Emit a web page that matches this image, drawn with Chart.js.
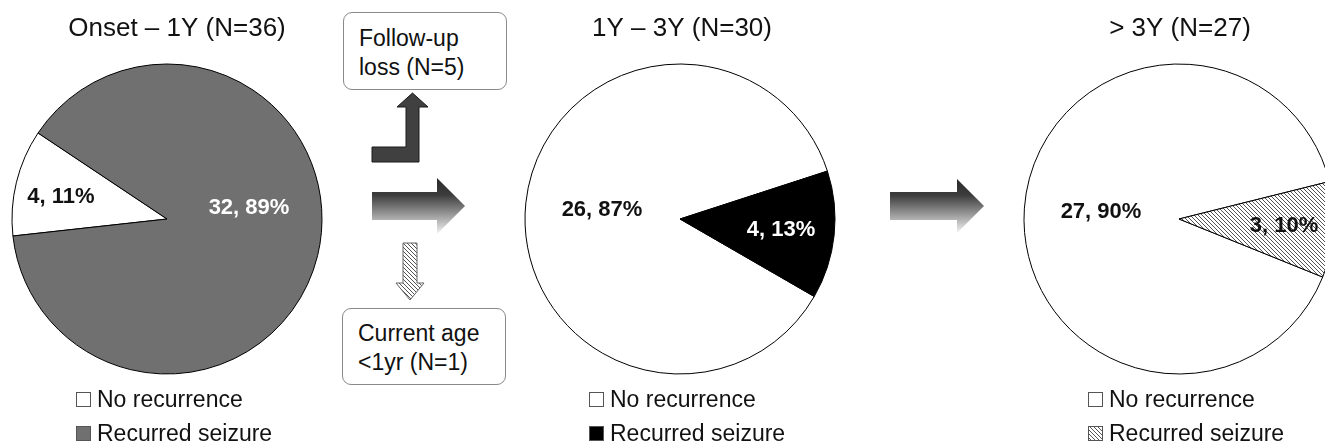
<!DOCTYPE html>
<html>
<head>
<meta charset="utf-8">
<script src="https://cdn.jsdelivr.net/npm/chart.js@4/dist/chart.umd.min.js"></script>
<style>
  html, body { margin:0; padding:0; background:#fff; overflow:hidden; width:1325px; height:445px; }
  #stage { position:relative; width:1325px; height:445px; overflow:hidden; font-family: Arial, "Liberation Sans", sans-serif; }
  canvas.pie { position:absolute; top:0; }
  .box { position:absolute; box-sizing:border-box; border:1px solid #8a8a8a; border-radius:9px; background:#fff;
         font-size:23px; line-height:29px; color:#111; padding-left:15px; }
  svg { position:absolute; left:0; top:0; }
</style>
</head>
<body>
<div id="stage">
  <svg width="1325" height="445">
    <defs>
      <linearGradient id="grad" x1="0" y1="0" x2="0" y2="1">
        <stop offset="0" stop-color="#2a2a2a"/>
        <stop offset="0.3" stop-color="#3c3c3c"/>
        <stop offset="1" stop-color="#f4f4f4"/>
      </linearGradient>
      <pattern id="hatch" width="4" height="4" patternUnits="userSpaceOnUse">
        <rect width="4" height="4" fill="#fff"/>
        <path d="M-1,-1 L5,5 M-1,3 L1,5 M3,-1 L5,1" stroke="#555" stroke-width="1"/>
      </pattern>
    </defs>
    <polygon points="372,147 406,147 406,107 397,107 412.5,93 428,107 419,107 419,162 372,162" fill="#404040" stroke="#1a1a1a" stroke-width="1"/>
    <polygon points="372,192 437,192 437,178 465,206 437,234 437,220 372,220" fill="url(#grad)"/>
    <polygon points="403,243 417,243 417,283 424,283 410,300 396,283 403,283" fill="url(#hatch)" stroke="#666" stroke-width="1"/>
    <polygon points="890,192 957,192 957,179 984,206 957,233 957,220 890,220" fill="url(#grad)"/>
  </svg>
  <div class="box" style="left:343px;top:12px;width:164px;height:78px;padding-top:11px;">Follow-up<br>loss (N=5)</div>
  <div class="box" style="left:342px;top:308px;width:164px;height:77px;padding-top:10px;">Current age<br>&lt;1yr (N=1)</div>
  <canvas id="c1" class="pie" width="360" height="445"></canvas>
  <canvas id="c2" class="pie" width="360" height="445"></canvas>
  <canvas id="c3" class="pie" width="360" height="445"></canvas>
</div>
<script>
// ---- data ----
const categories = ['No recurrence', 'Recurred seizure'];
const periodTitles = ['Onset \u2013 1Y (N=36)', '1Y \u2013 3Y (N=30)', '> 3Y (N=27)'];
const onsetTo1Y = [4, 32];
const oneTo3Y = [26, 4];
const over3Y = [27, 3];

// ---- styles ----
const FONT = 'Arial, "Liberation Sans", sans-serif';
function makeHatch() {
  const t = document.createElement('canvas');
  t.width = 4; t.height = 4;
  const c = t.getContext('2d');
  c.fillStyle = '#fff'; c.fillRect(0, 0, 4, 4);
  c.strokeStyle = '#555'; c.lineWidth = 1;
  c.beginPath();
  c.moveTo(-1, -1); c.lineTo(5, 5);
  c.moveTo(-1, 3); c.lineTo(1, 5);
  c.moveTo(3, -1); c.lineTo(5, 1);
  c.stroke();
  return c.createPattern(t, 'repeat');
}
const hatch = makeHatch();

const overlayPlugin = {
  id: 'overlay',
  afterDraw(chart, args, o) {
    const ctx = chart.ctx;
    const arc = chart.getDatasetMeta(0).data[0];
    const cx = arc.x, cy = arc.y;
    const ds = chart.data.datasets[0];
    const sum = ds.data.reduce((a, b) => a + b, 0);
    ctx.save();
    // title
    ctx.font = '26px ' + FONT;
    ctx.fillStyle = '#111';
    ctx.textAlign = 'center';
    ctx.textBaseline = 'middle';
    ctx.fillText(o.title, cx + o.titleDx, o.titleY);
    // data labels
    ctx.font = 'bold 22px ' + FONT;
    ds.data.forEach((v, i) => {
      ctx.fillStyle = o.labelColors[i];
      ctx.fillText(v + ', ' + Math.round(v / sum * 100) + '%', cx + o.labelOffsets[i][0], cy + o.labelOffsets[i][1]);
    });
    // legend
    ctx.textAlign = 'left';
    chart.data.labels.forEach((lab, i) => {
      const y = o.legendY[i];
      const bx = cx + o.legendDx;
      ctx.fillStyle = ds.backgroundColor[i];
      ctx.fillRect(bx + 0.5, y - 7.5, 14, 14);
      ctx.strokeStyle = '#555';
      ctx.lineWidth = 1;
      ctx.strokeRect(bx + 0.5, y - 7.5, 14, 14);
      ctx.fillStyle = '#111';
      ctx.font = '23px ' + FONT;
      ctx.fillText(lab, bx + 21, y + 1);
    });
    ctx.restore();
  }
};

function makePie(id, left, cy, values, colors, rotation, title, titleDx, labelOffsets, labelColors) {
  const el = document.getElementById(id);
  el.style.left = left + 'px';
  const padTop = cy - 155;
  new Chart(el, {
    type: 'pie',
    data: {
      labels: categories,
      datasets: [{
        data: values,
        backgroundColor: colors,
        borderColor: '#000',
        borderWidth: 1
      }]
    },
    options: {
      responsive: false,
      animation: false,
      devicePixelRatio: 1,
      rotation: rotation,
      radius: 155,
      layout: { padding: { top: padTop, bottom: 445 - padTop - 310, left: 25, right: 25 } },
      events: [],
      plugins: {
        legend: { display: false },
        title: { display: false },
        tooltip: { enabled: false },
        overlay: {
          title: title, titleDx: titleDx, titleY: 29,
          labelOffsets: labelOffsets, labelColors: labelColors,
          legendDx: -91, legendY: [400, 434]
        }
      }
    },
    plugins: [overlayPlugin]
  });
}

makePie('c1', 167 - 180, 219, onsetTo1Y, ['#ffffff', '#707070'], 263.7, periodTitles[0], 10,
        [[-106, -22], [82, -11]], ['#111', '#ffffff']);
makePie('c2', 680 - 180, 219, oneTo3Y, ['#ffffff', '#000000'], 120, periodTitles[1], 2,
        [[-78, -9], [101, 11]], ['#111', '#ffffff']);
makePie('c3', 1179 - 180, 219, over3Y, ['#ffffff', hatch], 112, periodTitles[2], 1,
        [[-78, -7], [105, 7]], ['#111', '#111']);
</script>
</body>
</html>
